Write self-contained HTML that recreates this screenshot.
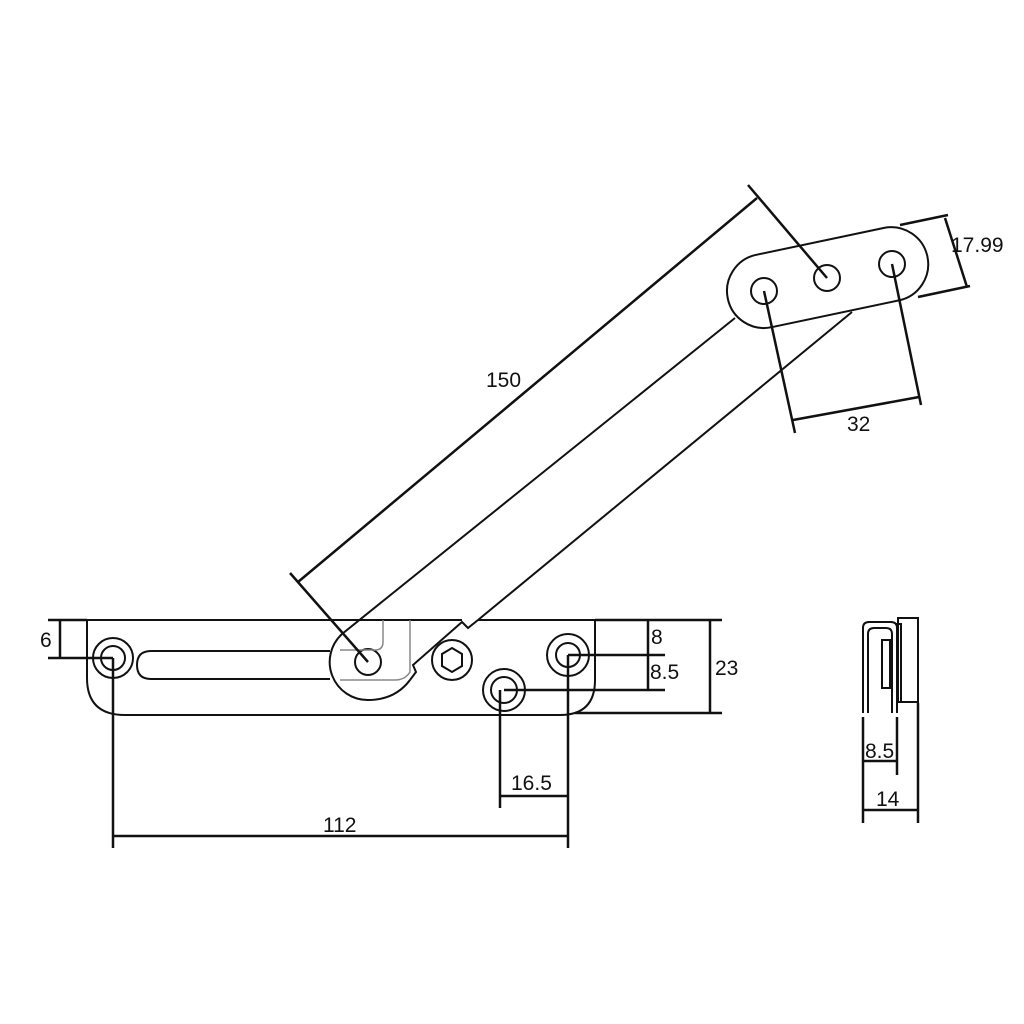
<!DOCTYPE html>
<html><head><meta charset="utf-8"><style>
html,body{margin:0;padding:0;background:#fff}
svg{display:block}
text{font-family:"Liberation Sans",sans-serif;font-size:21px;fill:#111}
</style></head><body>
<svg width="1024" height="1024" viewBox="0 0 1024 1024" xmlns="http://www.w3.org/2000/svg">
<rect width="1024" height="1024" fill="#fff"/>
<g fill="none" stroke="#111" stroke-width="2">
<path d="M87,620 L87,678 Q87,715 125,715 L560,715 Q595,715 595,680 L595,620"/>
<line x1="87" y1="620" x2="462" y2="620"/>
<line x1="478" y1="620" x2="595" y2="620"/>
<path d="M330,651 L151,651 Q137,651 137,665 Q137,679 151,679 L330,679"/>
<circle cx="113" cy="658" r="20"/>
<circle cx="113" cy="658" r="12"/>
<path d="M342,634 A38,38 0 0 0 368,700 Q395,700 410,680"/>
<path d="M410,680 L416,672 L413,665 L462,622 L468,628 L478,620"/>
<circle cx="368" cy="662" r="13"/>
<circle cx="452" cy="660" r="20"/>
<polygon points="452,648 462,654 462,666 452,672 442,666 442,654"/>
<circle cx="504" cy="690" r="21"/>
<circle cx="504" cy="690" r="13"/>
<circle cx="568" cy="655" r="21"/>
<circle cx="568" cy="655" r="12"/>
<line x1="342" y1="634" x2="735" y2="318"/>
<line x1="478" y1="620" x2="852" y2="312"/>
<g transform="translate(764,291) rotate(-11.9)">
<path d="M0,-37 L130,-37 A37,37 0 0 1 130,37 L0,37 A37,37 0 0 1 0,-37 Z"/>
</g>
<circle cx="764" cy="291" r="13"/>
<circle cx="827" cy="278" r="13"/>
<circle cx="892" cy="264" r="13"/>
</g>
<g fill="none" stroke="#888" stroke-width="1.5">
<path d="M383,620 L383,642 Q383,650 375,650 L340,650"/>
<path d="M410,620 L410,672 Q405,680 395,680 L340,680"/>
</g>
<g fill="none" stroke="#111" stroke-width="2.5">
<line x1="48" y1="620" x2="87" y2="620"/>
<line x1="48" y1="658" x2="113" y2="658"/>
<line x1="60" y1="620" x2="60" y2="658"/>
<line x1="595" y1="620" x2="722" y2="620"/>
<line x1="568" y1="655" x2="665" y2="655"/>
<line x1="504" y1="690" x2="665" y2="690"/>
<line x1="575" y1="713" x2="722" y2="713"/>
<line x1="648" y1="620" x2="648" y2="690"/>
<line x1="710" y1="620" x2="710" y2="713"/>
<line x1="500" y1="690" x2="500" y2="808"/>
<line x1="568" y1="655" x2="568" y2="848"/>
<line x1="500" y1="796" x2="568" y2="796"/>
<line x1="113" y1="658" x2="113" y2="848"/>
<line x1="113" y1="836" x2="568" y2="836"/>
<line x1="298" y1="582" x2="757" y2="198"/>
<line x1="290" y1="573" x2="368" y2="662"/>
<line x1="748" y1="185" x2="827" y2="278"/>
<line x1="900" y1="225" x2="948" y2="215"/>
<line x1="918" y1="297" x2="970" y2="286"/>
<line x1="945" y1="218" x2="967" y2="287"/>
<line x1="764" y1="291" x2="795" y2="433"/>
<line x1="892" y1="264" x2="921" y2="405"/>
<line x1="793" y1="420" x2="919" y2="397"/>
</g>
<g fill="none" stroke="#111" stroke-width="2">
<path d="M863,713 L863,628 Q863,622 869,622 L891,622 Q897,622 897,628 L897,713"/>
<path d="M868,713 L868,634 Q868,628 874,628 L886,628 Q892,628 892,634 L892,713"/>
<rect x="882" y="640" width="8" height="48"/>
<rect x="898" y="618" width="20" height="84"/>
<rect x="897" y="624" width="4" height="78"/>
</g>
<g fill="none" stroke="#111" stroke-width="2.5">
<line x1="863" y1="717" x2="863" y2="823"/>
<line x1="897" y1="717" x2="897" y2="775"/>
<line x1="918" y1="703" x2="918" y2="823"/>
<line x1="863" y1="761" x2="897" y2="761"/>
<line x1="863" y1="810" x2="918" y2="810"/>
</g>
<text x="40" y="647">6</text>
<text x="651" y="644">8</text>
<text x="650" y="679">8.5</text>
<text x="715" y="675">23</text>
<text x="511" y="790">16.5</text>
<text x="323" y="832">112</text>
<text x="486" y="387">150</text>
<text x="847" y="431">32</text>
<text x="951" y="252">17.99</text>
<text x="865" y="758">8.5</text>
<text x="876" y="806">14</text>
</svg>
</body></html>
